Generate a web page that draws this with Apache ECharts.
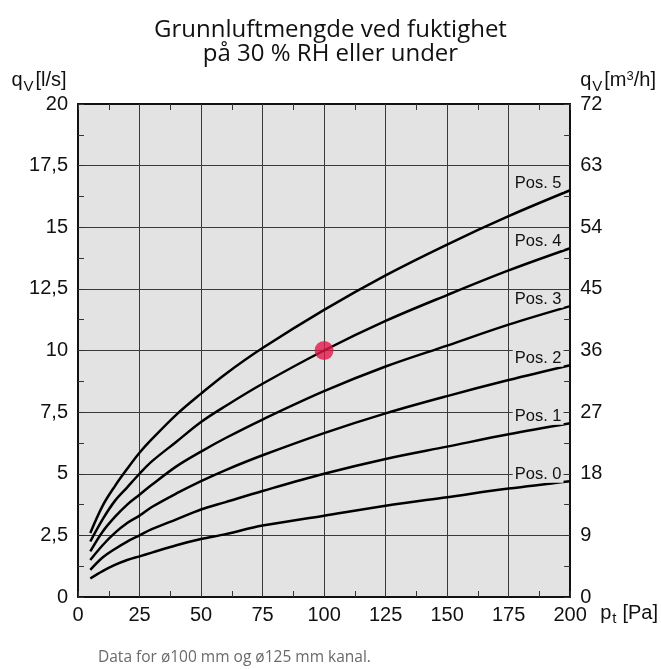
<!DOCTYPE html>
<html>
<head>
<meta charset="utf-8">
<script src="https://cdn.jsdelivr.net/npm/echarts@6/dist/echarts.min.js"></script>
<style>
    html, body { margin: 0; padding: 0; background: #fff; }
    #chart { width: 661px; height: 669px; }
</style>
</head>
<body>
<div id="chart"></div>
<script>
    // trykk p_t [Pa]
    const pressure = [5, 10, 15, 20, 25, 30, 40, 50, 60, 75, 100, 125, 150, 175, 200]

    // luftmengde q_V [l/s], avlest fra kurvene
    const pos0 = [0.75, 1.05, 1.3, 1.5, 1.65, 1.8, 2.1, 2.35, 2.55, 2.9, 3.3, 3.7, 4.05, 4.4, 4.7]
    const pos1 = [1.1, 1.6, 1.95, 2.25, 2.5, 2.75, 3.15, 3.55, 3.85, 4.3, 5.0, 5.6, 6.1, 6.6, 7.05]
    const pos2 = [1.5, 2.1, 2.6, 3.0, 3.3, 3.65, 4.2, 4.7, 5.15, 5.75, 6.65, 7.45, 8.15, 8.8, 9.4]
    const pos3 = [1.85, 2.65, 3.25, 3.75, 4.15, 4.55, 5.3, 5.9, 6.45, 7.2, 8.35, 9.35, 10.2, 11.05, 11.8]
    const pos4 = [2.25, 3.15, 3.9, 4.45, 5.0, 5.5, 6.3, 7.1, 7.75, 8.65, 10.0, 11.2, 12.25, 13.25, 14.15]
    const pos5 = [2.6, 3.7, 4.5, 5.2, 5.85, 6.4, 7.4, 8.25, 9.05, 10.1, 11.65, 13.05, 14.3, 15.45, 16.5]

    const seriesNames = ['Pos. 0', 'Pos. 1', 'Pos. 2', 'Pos. 3', 'Pos. 4', 'Pos. 5']
    const seriesValues = [pos0, pos1, pos2, pos3, pos4, pos5]

    // markert driftspunkt
    const dutyPoint = [100, 10]

    const xTicks = [0, 25, 50, 75, 100, 125, 150, 175, 200]
    const leftTicks = [0, 2.5, 5, 7.5, 10, 12.5, 15, 17.5, 20]
    const rightTicks = [0, 9, 18, 27, 36, 45, 54, 63, 72]

    const tickFont = 'Liberation Sans, Arial, sans-serif'
    const gridColor = '#3a3a3a'

    // felles aksestil
    const axisLine = { show: true, onZero: false, lineStyle: { color: '#111', width: 2 } }
    const axisTick = { show: true, inside: true, length: 6, lineStyle: { color: '#333', width: 1 } }
    const minorTick = { show: true, splitNumber: 2, length: 6, lineStyle: { color: '#333', width: 1 } }

    const chart = echarts.init(document.getElementById('chart'))

    const option = {
        animation: false,
        backgroundColor: '#fff',
        title: {
            text: 'Grunnluftmengde ved fuktighet\npå 30 % RH eller under',
            left: 'center',
            top: 13,
            textStyle: {
                fontFamily: 'Open Sans, Noto Sans, sans-serif',
                fontWeight: 'normal',
                fontSize: 24,
                lineHeight: 24,
                color: '#111'
            }
        },
        grid: {
            left: 78,
            right: 89,
            top: 104,
            bottom: 72,
            show: true,
            backgroundColor: '#e3e3e3',
            borderWidth: 0
        },
        graphic: [
            {
                type: 'text',
                left: 98,
                top: 650,
                style: {
                    text: 'Data for ø100 mm og ø125 mm kanal.',
                    font: '15.5px Open Sans, Noto Sans, sans-serif',
                    fill: '#6a6a6a'
                }
            }
        ],
        xAxis: [
            {
                type: 'value',
                min: 0,
                max: 200,
                interval: 25,
                name: '{p|p}{sub|t}{p|[Pa]}',
                nameLocation: 'end',
                nameGap: 30,
                nameTextStyle: {
                    verticalAlign: 'middle',
                    padding: [32, 0, 0, 0],
                    rich: {
                        p: { fontFamily: tickFont, fontSize: 20, color: '#111' },
                        sub: { fontFamily: tickFont, fontSize: 15, color: '#111', padding: [12, 6, 0, 1] }
                    }
                },
                axisLine: axisLine,
                axisTick: axisTick,
                minorTick: minorTick,
                splitLine: { show: true, lineStyle: { color: gridColor, width: 1 } },
                axisLabel: {
                    margin: 8,
                    fontFamily: tickFont,
                    fontSize: 20,
                    color: '#111',
                    customValues: xTicks
                }
            },
            {
                type: 'value',
                position: 'top',
                min: 0,
                max: 200,
                interval: 25,
                axisLine: axisLine,
                axisTick: axisTick,
                minorTick: minorTick,
                splitLine: { show: false },
                axisLabel: { show: false }
            }
        ],
        yAxis: [
            {
                type: 'value',
                min: 0,
                max: 20,
                interval: 2.5,
                name: '{q|q}{sub|V}{q|[l/s]}',
                nameLocation: 'end',
                nameGap: 10,
                nameTextStyle: {
                    align: 'center',
                    padding: [0, 78, 0, 0],
                    rich: {
                        q: { fontFamily: tickFont, fontSize: 20, color: '#111' },
                        sub: { fontFamily: tickFont, fontSize: 15, color: '#111', padding: [12, 2, 0, 1] }
                    }
                },
                axisLine: axisLine,
                axisTick: axisTick,
                minorTick: minorTick,
                splitLine: { show: true, lineStyle: { color: gridColor, width: 1 } },
                axisLabel: {
                    margin: 10,
                    fontFamily: tickFont,
                    fontSize: 20,
                    color: '#111',
                    customValues: leftTicks,
                    formatter: v => String(v).replace('.', ',')
                }
            },
            {
                type: 'value',
                position: 'right',
                min: 0,
                max: 72,
                interval: 9,
                name: '{q|q}{sub|V}{q|[m}{sup|3}{q|/h]}',
                nameLocation: 'end',
                nameGap: 10,
                nameTextStyle: {
                    align: 'left',
                    padding: [0, 0, 0, 10],
                    rich: {
                        q: { fontFamily: tickFont, fontSize: 20, color: '#111' },
                        sub: { fontFamily: tickFont, fontSize: 15, color: '#111', padding: [12, 2, 0, 1] },
                        sup: { fontFamily: tickFont, fontSize: 13, color: '#111', padding: [0, 0, 9, 0] }
                    }
                },
                axisLine: axisLine,
                axisTick: axisTick,
                minorTick: minorTick,
                splitLine: { show: false },
                axisLabel: {
                    margin: 10,
                    fontFamily: tickFont,
                    fontSize: 20,
                    color: '#111',
                    customValues: rightTicks
                }
            }
        ],
        series: seriesNames.map((name, i) => ({
            name: name,
            type: 'line',
            smooth: 0.35,
            symbol: 'none',
            clip: false,
            lineStyle: { color: '#000', width: 2.5 },
            data: pressure.map((p, j) => [p, seriesValues[i][j]]),
            markPoint: {
                symbol: 'rect',
                symbolSize: 1,
                itemStyle: { color: 'rgba(0,0,0,0)' },
                silent: true,
                data: [{
                    coord: [200, seriesValues[i][seriesValues[i].length - 1]],
                    label: {
                        show: true,
                        formatter: name,
                        position: 'inside',
                        offset: [-32, -7],
                        fontFamily: tickFont,
                        fontSize: 16.5,
                        color: '#111',
                        backgroundColor: '#e3e3e3',
                        padding: [0, 2]
                    }
                }]
            }
        })).concat([{
            name: 'punkt',
            type: 'scatter',
            symbolSize: 19,
            itemStyle: { color: '#e0174a' },
            z: 5,
            data: [dutyPoint]
        }])
    }

    chart.setOption(option)
</script>
</body>
</html>
